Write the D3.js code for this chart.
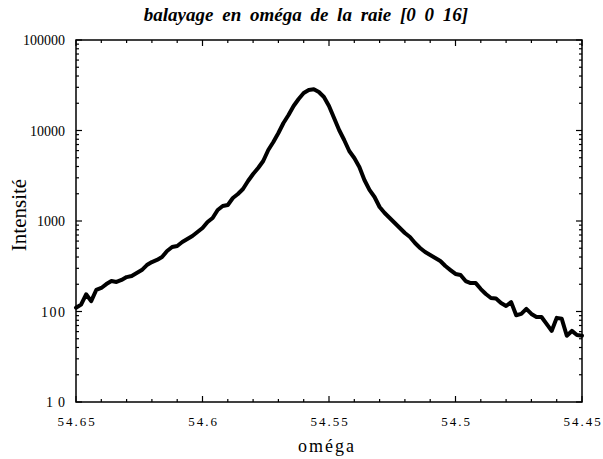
<!DOCTYPE html>
<html><head><meta charset="utf-8">
<script src="https://cdn.jsdelivr.net/npm/d3@7"></script>
<style>
body{margin:0;background:#fff;}
</style></head>
<body><svg id="c" width="603" height="459"></svg>
<script>
const omega = [54.650,54.648,54.646,54.644,54.642,54.640,54.638,54.636,54.634,54.632,
54.630,54.628,54.626,54.624,54.622,54.620,54.618,54.616,54.614,54.612,
54.610,54.608,54.606,54.604,54.602,54.600,54.598,54.596,54.594,54.592,
54.590,54.588,54.586,54.584,54.582,54.580,54.578,54.576,54.574,54.572,
54.570,54.568,54.566,54.564,54.562,54.560,54.558,54.556,54.554,54.552,
54.550,54.548,54.546,54.544,54.542,54.540,54.538,54.536,54.534,54.532,
54.530,54.528,54.526,54.524,54.522,54.520,54.518,54.516,54.514,54.512,
54.510,54.508,54.506,54.504,54.502,54.500,54.498,54.496,54.494,54.492,
54.490,54.488,54.486,54.484,54.482,54.480,54.478,54.476,54.474,54.472,
54.470,54.468,54.466,54.464,54.462,54.460,54.458,54.456,54.454,54.452,54.450];
const intensity = [110,119,155,130,173,182,201,217,212,223,
240,247,266,287,326,352,371,400,466,516,
530,586,632,683,756,837,975,1080,1324,1465,
1503,1795,1987,2258,2767,3305,3853,4603,6093,7464,
9380,12100,14830,18660,22290,25950,28000,28500,26620,23450,
18660,13740,10130,7850,5930,4966,3954,2838,2203,1841,
1428,1225,1080,950,837,737,666,571,503,454,
421,390,361,318,287,260,253,217,206,206,
177,156,141,139,124,115,127,91,94,107,
94,87,87,73,61,85,83,54,61,55,54];
const xTicks = [54.65,54.6,54.55,54.5,54.45];
const xTickLabels = ["54.65","54.6","54.55","54.5","54.45"];
const yTicks = [10,100,1000,10000,100000];
const yTickLabels = ["10","100","1000","10000","100000"];
const title = "balayage en oméga de la raie [0 0 16]";
const xTitle = "oméga";
const yTitle = "Intensité";

const FONT = '"Liberation Serif"';
const svg = d3.select("#c");
const L=76,R=582,T=40,B=402;
const x = d3.scaleLinear().domain([54.65,54.45]).range([L,R]);
const y = d3.scaleLog().domain([10,100000]).range([B,T]);

const line = d3.line().x((d,i)=>x(omega[i])).y(d=>y(d)).curve(d3.curveLinear);
svg.append("path").datum(intensity).attr("d",line).attr("fill","none")
  .attr("stroke","#000").attr("stroke-width",4).attr("stroke-linejoin","round").attr("stroke-linecap","round");

svg.append("rect").attr("x",L).attr("y",T).attr("width",R-L).attr("height",B-T)
  .attr("fill","none").attr("stroke","#000").attr("stroke-width",1.5);

const xMinor = d3.range(0,21).map(i=>54.65-i*0.01);
const g = svg.append("g").attr("stroke","#000").attr("stroke-width",1.2);
xMinor.forEach((v,i)=>{
  const len = (i%5===0)?6:3;
  g.append("line").attr("x1",x(v)).attr("x2",x(v)).attr("y1",B).attr("y2",B-len);
  g.append("line").attr("x1",x(v)).attr("x2",x(v)).attr("y1",T).attr("y2",T+len);
});
for(let d=10; d<=100000; d*=10){
  g.append("line").attr("x1",L).attr("x2",L+6).attr("y1",y(d)).attr("y2",y(d));
  g.append("line").attr("x1",R).attr("x2",R-6).attr("y1",y(d)).attr("y2",y(d));
  if(d<100000){
    for(let k=2;k<=9;k++){
      g.append("line").attr("x1",L).attr("x2",L+3).attr("y1",y(d*k)).attr("y2",y(d*k));
      g.append("line").attr("x1",R).attr("x2",R-3).attr("y1",y(d*k)).attr("y2",y(d*k));
    }
  }
}

function txt(){ return svg.append("text").style("font-family",FONT).attr("fill","#000"); }

xTicks.forEach((v,i)=>{
  txt().attr("x",x(v)+1).attr("y",426).attr("text-anchor","middle")
    .style("font-size","13px").style("letter-spacing","2px").text(xTickLabels[i]);
});
yTicks.forEach((v,i)=>{
  const ls = v===10?5:(v===100?1.5:0);
  txt().attr("x",65+ls).attr("y",y(v)+5).attr("text-anchor","end")
    .style("font-size","14px").style("letter-spacing", ls+"px").text(yTickLabels[i]);
});

txt().attr("x",306).attr("y",21).attr("text-anchor","middle")
  .style("font-size","19px").style("font-weight","bold").style("font-style","italic")
  .style("word-spacing","4px").text(title);
txt().attr("x",327).attr("y",452).attr("text-anchor","middle")
  .style("font-size","18px").style("letter-spacing","2px").text(xTitle);
txt().attr("transform","translate(26,215) rotate(-90)").attr("text-anchor","middle")
  .style("font-size","21px").text(yTitle);
</script></body></html>
